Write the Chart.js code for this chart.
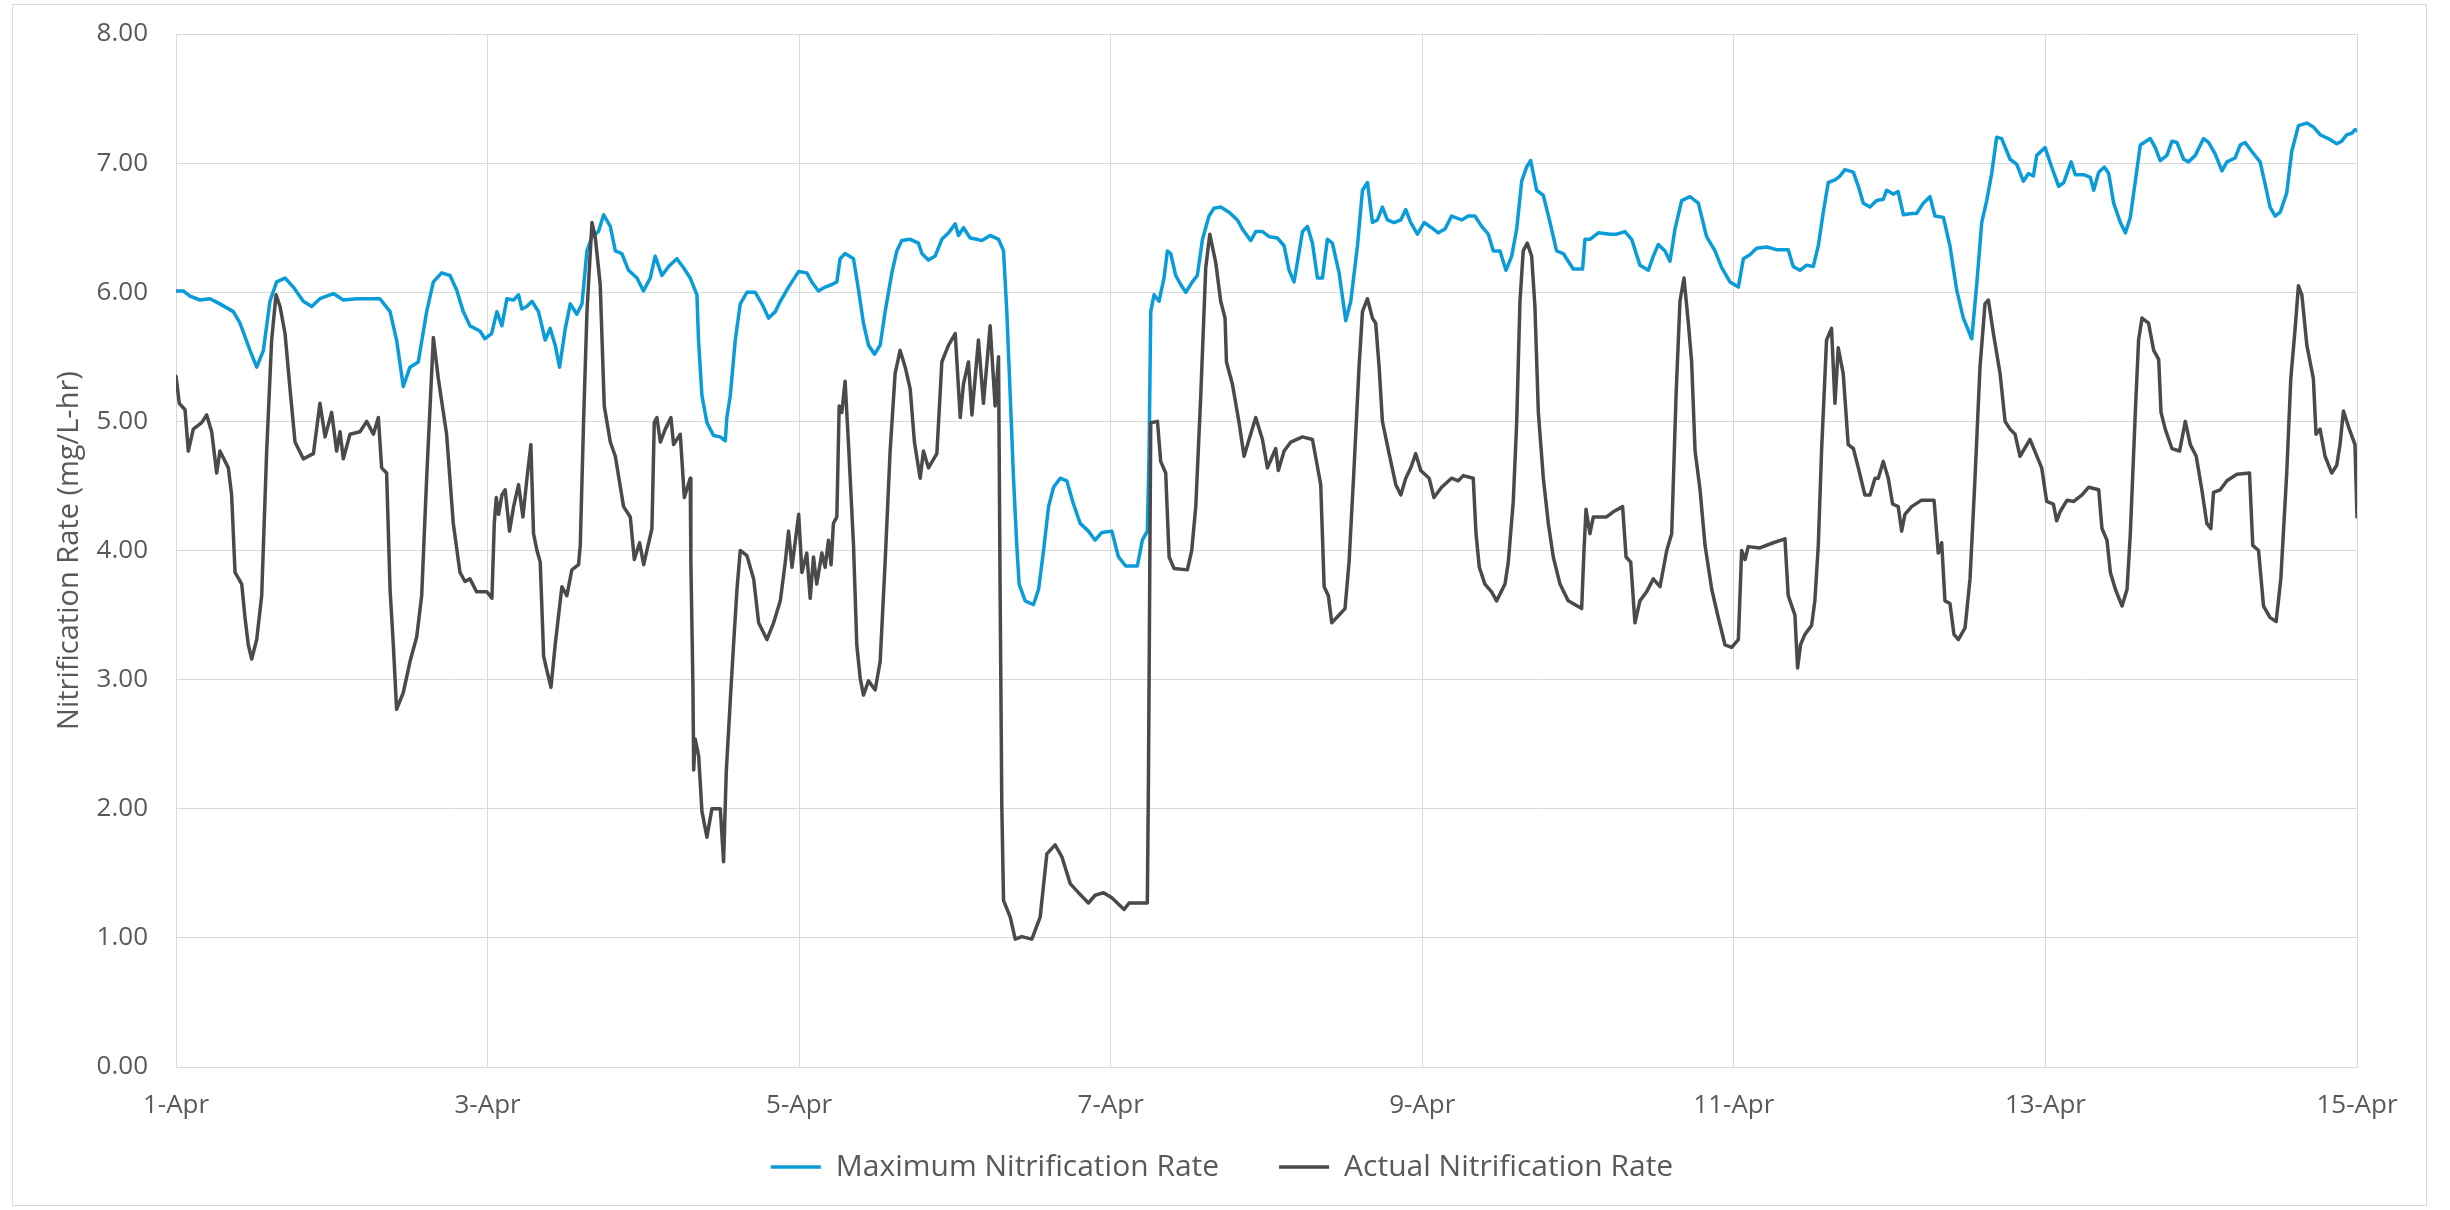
<!DOCTYPE html>
<html>
<head>
<meta charset="utf-8">
<script src="https://cdn.jsdelivr.net/npm/chart.js@4.4.1/dist/chart.umd.min.js"></script>
<style>
html, body { margin: 0; padding: 0; background: #ffffff; }
#wrap { position: relative; width: 2450px; height: 1210px; }
#frame { position: absolute; left: 12px; top: 4px; width: 2415px; height: 1202px; border: 1px solid #d9d9d9; box-sizing: border-box; pointer-events: none; }
canvas { position: absolute; left: 0; top: 0; }
</style>
</head>
<body>
<div id="wrap"><canvas id="c" width="2450" height="1210"></canvas><div id="frame"></div></div>
<script>
// x values are days elapsed since 1-Apr 00:00
const tickDays = [0, 2, 4, 6, 8, 10, 12, 14];
const tickLabels = ['1-Apr', '3-Apr', '5-Apr', '7-Apr', '9-Apr', '11-Apr', '13-Apr', '15-Apr'];
const seriesNames = ['Maximum Nitrification Rate', 'Actual Nitrification Rate'];

const maxDays = [0.000,0.047,0.090,0.154,0.218,0.282,0.368,0.411,0.475,0.518,0.561,0.603,0.646,0.700,0.753,0.817,0.871,0.924,1.010,1.074,1.160,1.309,1.374,1.416,1.459,1.502,1.555,1.609,1.652,1.705,1.759,1.801,1.844,1.887,1.951,1.983,2.026,2.060,2.092,2.124,2.167,2.199,2.220,2.252,2.285,2.327,2.370,2.402,2.434,2.462,2.499,2.531,2.573,2.606,2.638,2.670,2.712,2.745,2.788,2.820,2.862,2.905,2.959,3.001,3.044,3.076,3.119,3.162,3.215,3.258,3.301,3.344,3.354,3.376,3.408,3.451,3.494,3.526,3.536,3.558,3.590,3.622,3.665,3.718,3.761,3.804,3.847,3.879,3.932,3.996,4.049,4.081,4.124,4.167,4.210,4.242,4.263,4.295,4.349,4.381,4.413,4.445,4.484,4.520,4.552,4.595,4.627,4.659,4.713,4.766,4.788,4.830,4.873,4.916,4.959,5.002,5.023,5.055,5.098,5.141,5.173,5.226,5.280,5.312,5.333,5.355,5.376,5.397,5.412,5.451,5.504,5.537,5.569,5.601,5.633,5.676,5.718,5.761,5.804,5.857,5.900,5.943,6.007,6.050,6.096,6.171,6.203,6.235,6.246,6.257,6.278,6.310,6.342,6.364,6.385,6.417,6.449,6.482,6.524,6.556,6.589,6.631,6.663,6.706,6.760,6.813,6.845,6.899,6.931,6.974,7.017,7.070,7.113,7.145,7.177,7.198,7.231,7.263,7.295,7.327,7.359,7.391,7.423,7.466,7.509,7.541,7.584,7.616,7.648,7.680,7.712,7.744,7.776,7.819,7.862,7.894,7.926,7.969,8.012,8.060,8.103,8.146,8.188,8.253,8.295,8.338,8.381,8.424,8.456,8.499,8.537,8.574,8.606,8.638,8.670,8.696,8.734,8.777,8.820,8.862,8.905,8.969,9.029,9.044,9.076,9.130,9.205,9.248,9.301,9.344,9.397,9.451,9.483,9.515,9.558,9.590,9.622,9.665,9.718,9.772,9.825,9.879,9.922,9.975,10.029,10.061,10.103,10.146,10.210,10.274,10.349,10.381,10.424,10.467,10.510,10.542,10.574,10.606,10.649,10.681,10.713,10.767,10.799,10.831,10.874,10.916,10.959,10.981,11.023,11.055,11.088,11.141,11.173,11.216,11.259,11.291,11.345,11.387,11.430,11.473,11.527,11.559,11.591,11.623,11.655,11.687,11.719,11.773,11.816,11.858,11.891,11.923,11.944,11.998,12.040,12.085,12.118,12.165,12.192,12.246,12.288,12.310,12.342,12.378,12.406,12.438,12.481,12.513,12.545,12.577,12.609,12.673,12.705,12.737,12.780,12.812,12.844,12.887,12.919,12.962,13.015,13.047,13.090,13.133,13.165,13.218,13.250,13.282,13.325,13.378,13.410,13.442,13.475,13.507,13.549,13.581,13.624,13.678,13.720,13.763,13.816,13.870,13.902,13.934,13.966,13.987,14.000];
const maxRate = [6.01,6.01,5.97,5.94,5.95,5.91,5.85,5.76,5.55,5.42,5.55,5.93,6.08,6.11,6.04,5.93,5.89,5.95,5.99,5.94,5.95,5.95,5.85,5.63,5.27,5.42,5.46,5.85,6.08,6.15,6.13,6.02,5.85,5.74,5.70,5.64,5.68,5.85,5.74,5.95,5.94,5.98,5.87,5.89,5.93,5.85,5.63,5.72,5.59,5.42,5.72,5.91,5.83,5.91,6.32,6.43,6.47,6.60,6.51,6.32,6.30,6.17,6.11,6.01,6.11,6.28,6.13,6.20,6.26,6.19,6.11,5.98,5.63,5.20,4.99,4.89,4.88,4.85,5.03,5.20,5.63,5.91,6.00,6.00,5.91,5.80,5.85,5.93,6.04,6.16,6.15,6.08,6.01,6.04,6.06,6.08,6.26,6.30,6.26,6.02,5.76,5.59,5.52,5.59,5.85,6.15,6.32,6.40,6.41,6.38,6.30,6.25,6.28,6.41,6.46,6.53,6.44,6.50,6.42,6.41,6.40,6.44,6.41,6.32,5.85,5.20,4.56,4.04,3.74,3.61,3.58,3.70,4.00,4.34,4.49,4.56,4.54,4.36,4.21,4.15,4.08,4.14,4.15,3.95,3.88,3.88,4.08,4.15,4.73,5.85,5.98,5.93,6.11,6.32,6.30,6.13,6.06,6.00,6.08,6.13,6.41,6.59,6.65,6.66,6.62,6.56,6.49,6.40,6.47,6.47,6.43,6.42,6.36,6.17,6.08,6.23,6.47,6.51,6.38,6.11,6.11,6.41,6.38,6.15,5.78,5.93,6.36,6.79,6.85,6.54,6.56,6.66,6.56,6.54,6.56,6.64,6.54,6.45,6.54,6.50,6.46,6.49,6.59,6.56,6.59,6.59,6.51,6.45,6.32,6.32,6.17,6.28,6.49,6.86,6.97,7.02,6.79,6.75,6.54,6.32,6.30,6.18,6.18,6.41,6.41,6.46,6.45,6.45,6.47,6.41,6.21,6.17,6.28,6.37,6.32,6.24,6.49,6.71,6.74,6.69,6.43,6.32,6.19,6.08,6.04,6.26,6.29,6.34,6.35,6.33,6.33,6.20,6.17,6.21,6.20,6.36,6.62,6.85,6.87,6.90,6.95,6.93,6.82,6.69,6.66,6.71,6.72,6.79,6.76,6.78,6.60,6.61,6.61,6.69,6.74,6.59,6.58,6.36,6.02,5.80,5.64,6.06,6.54,6.71,6.92,7.20,7.19,7.03,6.99,6.86,6.92,6.90,7.06,7.12,6.97,6.82,6.85,7.01,6.91,6.91,6.89,6.79,6.93,6.97,6.92,6.69,6.54,6.46,6.58,6.86,7.14,7.19,7.12,7.02,7.06,7.17,7.16,7.03,7.01,7.06,7.19,7.16,7.07,6.94,7.01,7.04,7.14,7.16,7.09,7.01,6.84,6.66,6.59,6.62,6.77,7.09,7.29,7.31,7.28,7.22,7.19,7.15,7.17,7.22,7.23,7.26,7.25];

const actDays = [0.000,0.021,0.058,0.079,0.111,0.165,0.197,0.229,0.261,0.282,0.336,0.357,0.379,0.422,0.443,0.464,0.486,0.518,0.550,0.582,0.614,0.642,0.668,0.700,0.732,0.764,0.817,0.882,0.924,0.957,0.999,1.031,1.053,1.074,1.117,1.181,1.224,1.267,1.299,1.320,1.352,1.374,1.395,1.416,1.459,1.502,1.545,1.577,1.609,1.652,1.684,1.737,1.780,1.823,1.855,1.887,1.930,1.996,2.028,2.043,2.056,2.071,2.092,2.113,2.141,2.167,2.199,2.227,2.253,2.278,2.295,2.317,2.338,2.360,2.381,2.407,2.434,2.477,2.509,2.541,2.584,2.595,2.616,2.638,2.670,2.691,2.723,2.749,2.788,2.820,2.873,2.916,2.942,2.976,3.002,3.055,3.070,3.087,3.109,3.141,3.177,3.194,3.237,3.263,3.301,3.305,3.318,3.323,3.333,3.355,3.376,3.408,3.440,3.494,3.515,3.532,3.558,3.579,3.601,3.622,3.665,3.708,3.740,3.793,3.836,3.879,3.911,3.932,3.954,3.997,4.018,4.049,4.071,4.092,4.113,4.146,4.167,4.188,4.205,4.220,4.242,4.257,4.274,4.295,4.317,4.349,4.370,4.392,4.413,4.445,4.488,4.520,4.552,4.584,4.616,4.648,4.681,4.713,4.740,4.777,4.798,4.830,4.884,4.916,4.959,5.002,5.034,5.055,5.087,5.109,5.151,5.183,5.226,5.258,5.280,5.290,5.301,5.312,5.355,5.387,5.429,5.494,5.547,5.590,5.643,5.686,5.740,5.793,5.857,5.900,5.954,6.007,6.086,6.118,6.235,6.242,6.250,6.257,6.300,6.321,6.353,6.375,6.407,6.492,6.520,6.546,6.578,6.610,6.636,6.674,6.706,6.734,6.743,6.781,6.824,6.856,6.888,6.931,6.974,7.006,7.038,7.059,7.076,7.113,7.156,7.231,7.295,7.348,7.370,7.397,7.419,7.466,7.504,7.530,7.562,7.594,7.616,7.648,7.680,7.701,7.723,7.744,7.787,7.830,7.862,7.894,7.926,7.958,7.990,8.044,8.075,8.124,8.188,8.231,8.263,8.327,8.345,8.366,8.402,8.445,8.477,8.531,8.552,8.584,8.606,8.627,8.648,8.674,8.702,8.723,8.745,8.777,8.809,8.841,8.884,8.937,9.023,9.038,9.051,9.076,9.098,9.183,9.226,9.286,9.308,9.338,9.365,9.397,9.440,9.483,9.526,9.569,9.601,9.629,9.654,9.680,9.708,9.729,9.751,9.783,9.815,9.858,9.900,9.943,9.986,10.029,10.050,10.072,10.092,10.167,10.253,10.328,10.349,10.392,10.409,10.428,10.456,10.499,10.520,10.542,10.563,10.595,10.627,10.649,10.670,10.702,10.734,10.767,10.799,10.841,10.874,10.906,10.927,10.959,10.991,11.019,11.055,11.077,11.098,11.141,11.205,11.285,11.312,11.334,11.355,11.387,11.413,11.441,11.484,11.516,11.548,11.580,11.612,11.634,11.666,11.709,11.741,11.773,11.805,11.837,11.901,11.976,12.008,12.051,12.072,12.094,12.139,12.182,12.235,12.278,12.342,12.363,12.395,12.417,12.449,12.492,12.524,12.545,12.577,12.598,12.620,12.662,12.695,12.727,12.742,12.769,12.812,12.861,12.898,12.930,12.968,13.004,13.036,13.062,13.079,13.122,13.165,13.229,13.310,13.331,13.368,13.400,13.442,13.481,13.511,13.549,13.575,13.603,13.624,13.646,13.678,13.720,13.737,13.763,13.795,13.838,13.870,13.891,13.913,13.945,13.987,14.000];
const actRate = [5.35,5.14,5.09,4.77,4.94,4.99,5.05,4.92,4.60,4.77,4.64,4.43,3.83,3.74,3.48,3.27,3.16,3.31,3.65,4.77,5.63,5.98,5.89,5.68,5.25,4.84,4.71,4.75,5.14,4.88,5.07,4.77,4.92,4.71,4.90,4.92,5.00,4.90,5.03,4.64,4.60,3.70,3.27,2.77,2.90,3.14,3.33,3.65,4.56,5.65,5.33,4.90,4.21,3.83,3.76,3.78,3.68,3.68,3.63,4.21,4.41,4.28,4.43,4.47,4.15,4.34,4.51,4.26,4.56,4.82,4.13,4.00,3.91,3.18,3.07,2.94,3.27,3.72,3.65,3.85,3.89,4.04,4.99,5.85,6.54,6.43,6.06,5.12,4.84,4.73,4.34,4.26,3.93,4.06,3.89,4.17,4.99,5.03,4.84,4.94,5.03,4.82,4.90,4.41,4.56,3.91,2.97,2.30,2.54,2.41,1.98,1.78,2.00,2.00,1.59,2.28,2.84,3.27,3.70,4.00,3.96,3.78,3.44,3.31,3.44,3.61,3.91,4.15,3.87,4.28,3.83,3.98,3.63,3.95,3.74,3.98,3.87,4.08,3.89,4.21,4.26,5.12,5.07,5.31,4.82,4.04,3.27,3.01,2.88,2.99,2.92,3.14,3.91,4.77,5.37,5.55,5.42,5.25,4.84,4.56,4.77,4.64,4.75,5.46,5.59,5.68,5.03,5.29,5.46,5.05,5.63,5.14,5.74,5.12,5.50,3.70,2.02,1.29,1.16,0.99,1.01,0.99,1.16,1.65,1.72,1.63,1.42,1.35,1.27,1.33,1.35,1.31,1.22,1.27,1.27,2.19,3.70,4.99,5.00,4.69,4.60,3.95,3.86,3.85,4.00,4.34,5.20,6.19,6.45,6.23,5.93,5.80,5.46,5.29,4.99,4.73,4.86,5.03,4.86,4.64,4.73,4.79,4.62,4.77,4.84,4.88,4.86,4.51,3.72,3.65,3.44,3.50,3.55,3.91,4.64,5.42,5.85,5.95,5.80,5.76,5.42,5.00,4.75,4.51,4.43,4.56,4.64,4.75,4.62,4.56,4.41,4.49,4.56,4.54,4.58,4.56,4.13,3.87,3.74,3.68,3.61,3.74,3.91,4.38,4.99,5.93,6.32,6.38,6.28,5.89,5.07,4.56,4.21,3.95,3.74,3.61,3.55,4.00,4.32,4.13,4.26,4.26,4.30,4.34,3.95,3.91,3.44,3.61,3.68,3.78,3.72,4.00,4.13,5.20,5.93,6.11,5.76,5.46,4.77,4.47,4.04,3.70,3.48,3.27,3.25,3.31,4.00,3.93,4.03,4.02,4.06,4.09,3.65,3.50,3.09,3.27,3.35,3.42,3.61,4.04,4.77,5.63,5.72,5.14,5.57,5.37,4.82,4.79,4.64,4.43,4.43,4.56,4.56,4.69,4.56,4.36,4.34,4.15,4.28,4.34,4.39,4.39,3.98,4.06,3.61,3.59,3.35,3.31,3.40,3.78,4.56,5.42,5.91,5.94,5.68,5.37,5.00,4.94,4.90,4.73,4.86,4.64,4.38,4.36,4.23,4.30,4.39,4.38,4.43,4.49,4.47,4.17,4.08,3.83,3.70,3.57,3.70,4.13,5.07,5.63,5.80,5.76,5.55,5.48,5.07,4.94,4.79,4.77,5.00,4.82,4.73,4.47,4.21,4.17,4.45,4.47,4.54,4.59,4.60,4.04,4.00,3.57,3.48,3.45,3.78,4.60,5.33,5.72,6.05,5.98,5.59,5.33,4.90,4.94,4.73,4.60,4.66,4.82,5.08,4.96,4.82,4.26];

const toPoints = (xs, ys) => xs.map((x, i) => ({ x: x, y: ys[i] }));
const axisText = '#595959';
const gridColor = '#d9d9d9';
const fontFamily = "'Open Sans', 'Noto Sans', sans-serif";

// Moves the legend row up so it sits where the original legend is (layout tweak only).
const legendLift = {
  id: 'legendLift',
  afterLayout(chart) {
    if (chart.legend) { chart.legend.top -= 30; }
  }
};

new Chart(document.getElementById('c').getContext('2d'), {
  type: 'line',
  data: {
    datasets: [
      { label: seriesNames[0], data: toPoints(maxDays, maxRate), borderColor: '#0a9bd9', backgroundColor: '#0a9bd9',
        borderWidth: 3.5, pointRadius: 0, tension: 0, borderJoinStyle: 'round', borderCapStyle: 'round', order: 2 },
      { label: seriesNames[1], data: toPoints(actDays, actRate), borderColor: '#4a4a4a', backgroundColor: '#4a4a4a',
        borderWidth: 3.5, pointRadius: 0, tension: 0, borderJoinStyle: 'round', borderCapStyle: 'round', order: 1 }
    ]
  },
  plugins: [legendLift],
  options: {
    responsive: false,
    animation: false,
    devicePixelRatio: 1,
    layout: { padding: { left: 87, right: 93, top: 34, bottom: 0 } },
    plugins: {
      tooltip: { enabled: false },
      legend: {
        position: 'bottom',
        maxHeight: 88,
        labels: {
          usePointStyle: true, pointStyle: 'line', pointStyleWidth: 50, padding: 60,
          color: axisText, font: { family: fontFamily, size: 30 },
          sort: (a, b) => a.datasetIndex - b.datasetIndex
        }
      }
    },
    scales: {
      x: {
        type: 'linear', min: tickDays[0], max: tickDays[tickDays.length - 1],
        afterFit: (s) => { s.height = 55; },
        ticks: { stepSize: 2, padding: 23, color: axisText, font: { family: fontFamily, size: 26 }, maxRotation: 0, autoSkip: false,
                 callback: (v) => { const k = tickDays.indexOf(Math.round(v)); return k >= 0 ? tickLabels[k] : ''; } },
        grid: { color: gridColor, lineWidth: 1, drawTicks: false },
        border: { color: gridColor, width: 1 }
      },
      y: {
        min: 0, max: 8,
        afterFit: (s) => { s.width = 89; s.paddingTop = 16; s.paddingBottom = 16; },
        ticks: { stepSize: 1, padding: 28, color: axisText, font: { family: fontFamily, size: 26 },
                 callback: (v) => Number(v).toFixed(2) },
        grid: { color: gridColor, lineWidth: 1, drawTicks: false },
        border: { color: gridColor, width: 1 },
        title: { display: true, text: 'Nitrification Rate (mg/L-hr)', color: axisText,
                 font: { family: fontFamily, size: 29 }, padding: { top: -35, bottom: 0 } }
      }
    }
  }
});
</script>
</body>
</html>
